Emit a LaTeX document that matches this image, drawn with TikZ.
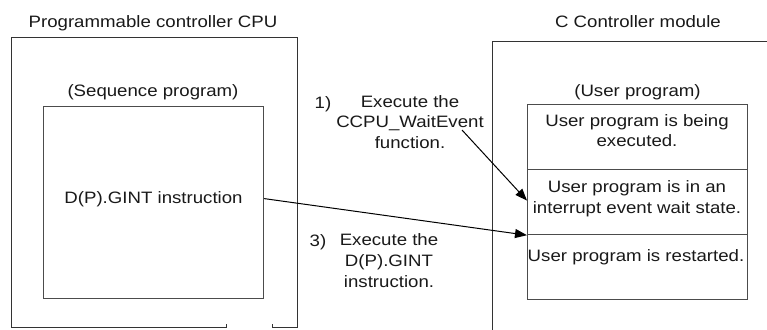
\documentclass[tikz,border=0pt]{standalone}
\usepackage{fontspec}
\usepackage{graphicx}
\setmainfont{Liberation Sans}
\usetikzlibrary{arrows.meta}
\newcommand{\wtxt}[1]{\scalebox{1.13}[1]{\begin{tabular}[t]{@{}c@{}}#1\end{tabular}}}
\begin{document}
\begin{tikzpicture}[x=1pt,y=1pt,
  txt/.style={font=\fontsize{16.5}{20.8}\selectfont, inner sep=0pt, anchor=base, text=black!90},
  outerline/.style={draw=black!80, line width=1pt},
  innerbox/.style={draw=black!70, line width=1.2pt, rectangle, inner sep=0pt, anchor=north west},
  arr/.style={draw=black, line width=1pt, -{Triangle[length=12pt,width=9pt]}}]
\useasboundingbox (0,-329) rectangle (767,0);
% outer frames
\draw[outerline] (226,-324) -- (226,-327.5) -- (11,-327.5) -- (11,-37.5) -- (297,-37.5) -- (297,-327.5) -- (272,-327.5) -- (272,-324);
\draw[outerline] (492,-340) -- (492,-42) -- (780,-42);
% titles
\node[txt] (tleft) at (153,-28) {\wtxt{Programmable controller CPU}};
\node[txt] (tright) at (638,-28) {\wtxt{C Controller module}};
\node[txt] (tseq) at (153,-96.5) {\wtxt{(Sequence program)}};
\node[txt] (tuser) at (637.5,-96.5) {\wtxt{(User program)}};
% boxes
\node[innerbox, minimum width=220pt, minimum height=192pt] (seq) at (43,-106) {};
\node[txt] (gint) at (153.5,-203) {\wtxt{D(P).GINT instruction}};
\node[innerbox, minimum width=220pt, minimum height=65pt] (r1) at (527,-104) {};
\node[innerbox, minimum width=220pt, minimum height=65pt] (r2) at (527,-169) {};
\node[innerbox, minimum width=220pt, minimum height=65pt] (r3) at (527,-234) {};
\node[txt] (r1t) at (637,-126) {\wtxt{User program is being\\executed.}};
\node[txt] (r2t) at (637,-192.5) {\wtxt{User program is in an\\interrupt event wait state.}};
\node[txt] (r3t) at (636,-261) {\wtxt{User program is restarted.}};
% labels
\node[txt] (n1) at (323,-108) {\wtxt{1)}};
\node[txt] (l1) at (410,-107) {\wtxt{Execute the\\CCPU\_WaitEvent\\function.}};
\node[txt] (n3) at (318,-246) {\wtxt{3)}};
\node[txt] (l3) at (389,-245.5) {\wtxt{Execute the\\D(P).GINT\\instruction.}};
% arrows
\coordinate (a1s) at (462,-130);
\draw[arr] (a1s) -- ([yshift=1.5pt]r2.west);
\draw[arr] ([yshift=4pt]seq.east) -- (r2.south west);
\end{tikzpicture}
\end{document}
